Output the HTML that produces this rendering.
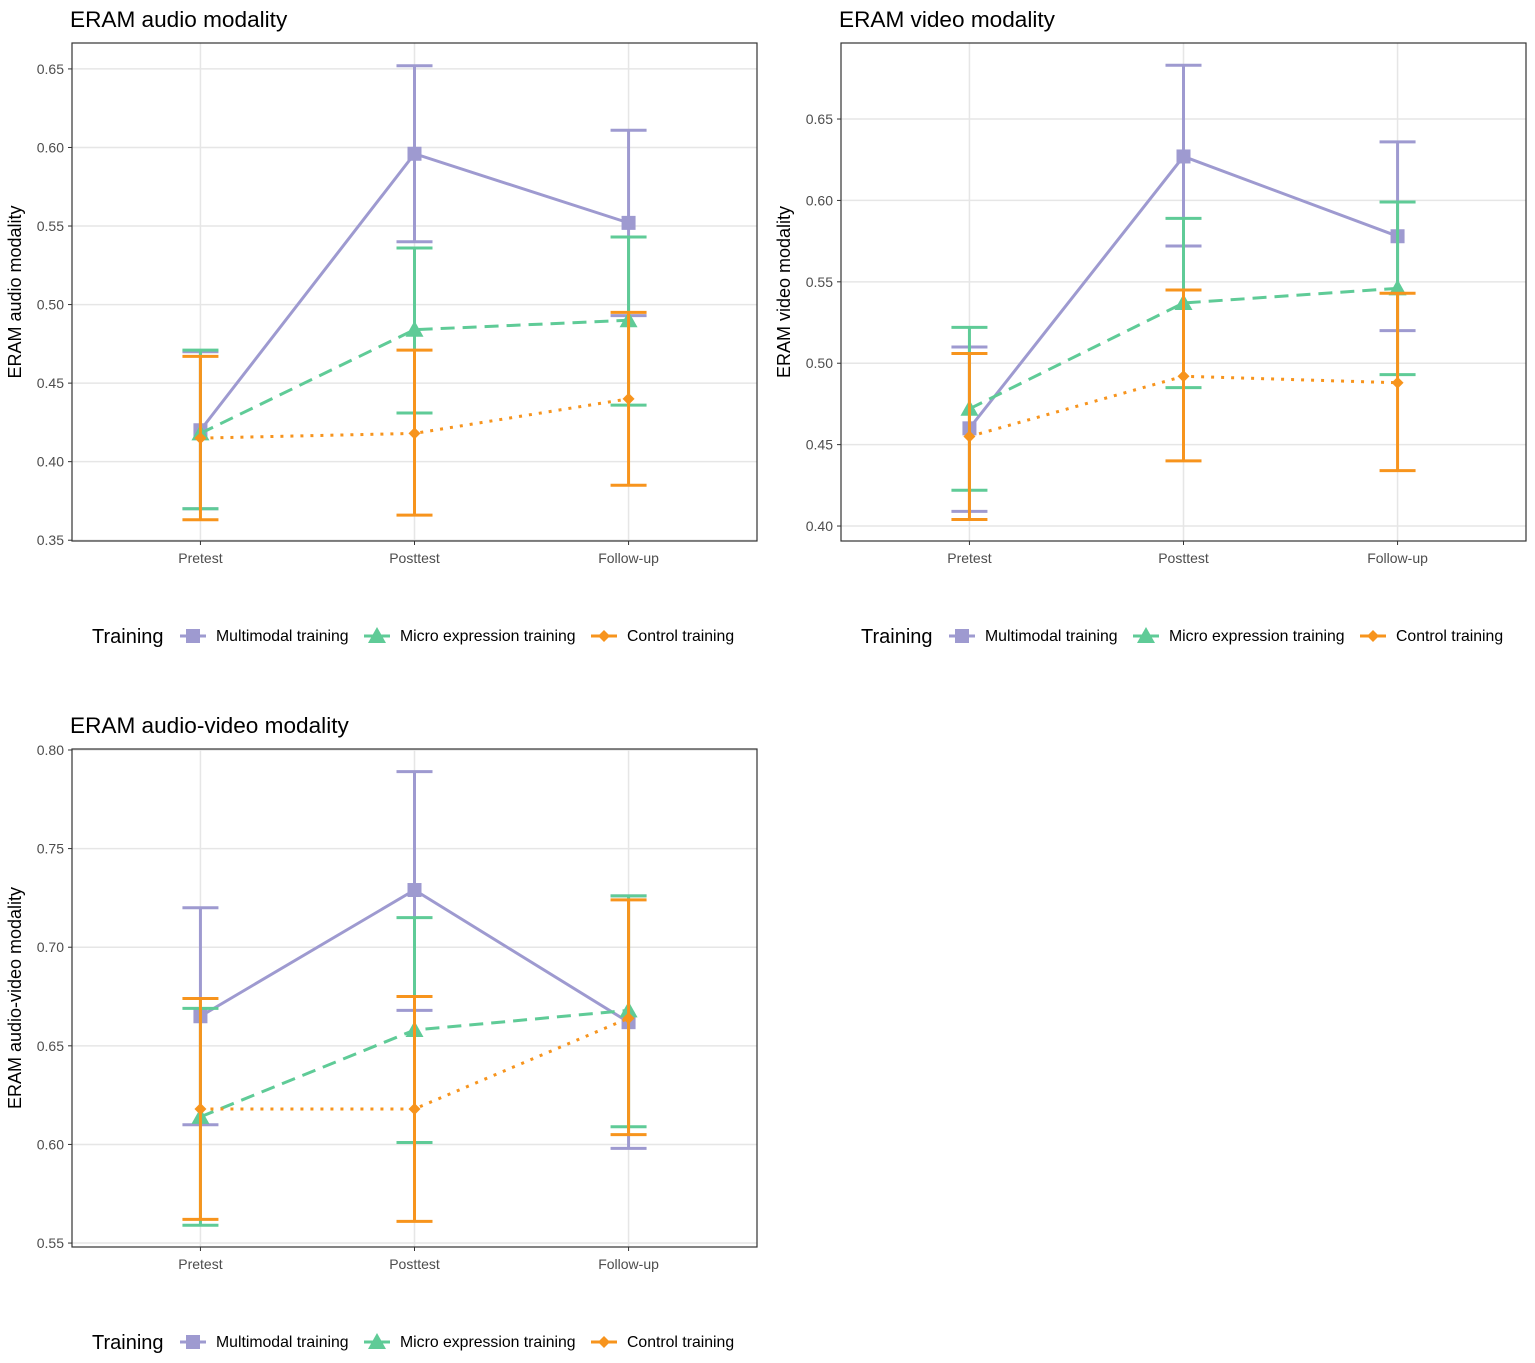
<!DOCTYPE html>
<html><head><meta charset="utf-8">
<style>
html,body{margin:0;padding:0;background:#fff;}
svg text{font-family:"Liberation Sans",Arial,sans-serif;}
</style></head>
<body>
<svg id="chart" width="1535" height="1358" viewBox="0 0 1535 1358" xmlns="http://www.w3.org/2000/svg"></svg>
<script>
const categories = ["Pretest","Posttest","Follow-up"];
const seriesNames = ["Multimodal training","Micro expression training","Control training"];
// Panel 1: audio
const audioMean = [[0.420,0.596,0.552],[0.418,0.484,0.490],[0.415,0.418,0.440]];
const audioHigh = [[0.470,0.652,0.611],[0.471,0.536,0.543],[0.467,0.471,0.495]];
const audioLow  = [[0.370,0.540,0.493],[0.370,0.431,0.436],[0.363,0.366,0.385]];
const audioTicks = [0.35,0.40,0.45,0.50,0.55,0.60,0.65];
// Panel 2: video
const videoMean = [[0.460,0.627,0.578],[0.472,0.537,0.546],[0.455,0.492,0.488]];
const videoHigh = [[0.510,0.683,0.636],[0.522,0.589,0.599],[0.506,0.545,0.543]];
const videoLow  = [[0.409,0.572,0.520],[0.422,0.485,0.493],[0.404,0.440,0.434]];
const videoTicks = [0.40,0.45,0.50,0.55,0.60,0.65];
// Panel 3: audio-video
const avMean = [[0.665,0.729,0.662],[0.614,0.658,0.668],[0.618,0.618,0.664]];
const avHigh = [[0.720,0.789,0.726],[0.669,0.715,0.726],[0.674,0.675,0.724]];
const avLow  = [[0.610,0.668,0.598],[0.559,0.601,0.609],[0.562,0.561,0.605]];
const avTicks = [0.55,0.60,0.65,0.70,0.75,0.80];

const colors = ["#9e9ad0","#5fcb97","#f7941d"];
const dashes = ["", "14 8", "3 7"];
const NS = "http://www.w3.org/2000/svg";
const svg = document.getElementById("chart");
function el(tag, attrs, parent){const e=document.createElementNS(NS,tag);for(const k in attrs)e.setAttribute(k,attrs[k]);(parent||svg).appendChild(e);return e;}

function marker(g, s, x, y){
  let m;
  if(s===0){m=el("rect",{x:x-7,y:y-7,width:14,height:14,fill:colors[0]},g);}
  else if(s===1){m=el("polygon",{points:`${x},${y-9} ${x+9},${y+7} ${x-9},${y+7}`,fill:colors[1]},g);}
  else {m=el("polygon",{points:`${x},${y-6} ${x+6},${y} ${x},${y+6} ${x-6},${y}`,fill:colors[2]},g);}
  return m;
}

function panel(cfg){
  const {px,py,pw,ph,vmin,vmax,ticks,mean,high,low,title,ylab,name} = cfg;
  const g = el("g",{});
  
  
  const yS = v => py+ph - (v-vmin)/(vmax-vmin)*ph;
  const xS = i => px + pw*(0.1875 + i*0.3125);
  ticks.forEach(t=>{
    const y=yS(t);
    const gl=el("line",{x1:px,x2:px+pw,y1:y,y2:y,stroke:"#e6e6e6","stroke-width":1.5},g);
    
    
    const tl=el("text",{x:px-8,y:y+5,"text-anchor":"end","font-size":14,fill:"#4d4d4d"},g);
    tl.textContent=t.toFixed(2);
    
    
    el("line",{x1:px-4,x2:px,y1:y,y2:y,stroke:"#333","stroke-width":1},g);
  });
  categories.forEach((c,i)=>{
    const x=xS(i);
    el("line",{x1:x,x2:x,y1:py,y2:py+ph,stroke:"#e6e6e6","stroke-width":1.5},g);
    el("line",{x1:x,x2:x,y1:py+ph,y2:py+ph+4,stroke:"#333","stroke-width":1},g);
    const tl=el("text",{x:x,y:py+ph+22,"text-anchor":"middle","font-size":14,fill:"#4d4d4d"},g);
    tl.textContent=c;
    
    
  });
  for(let s=0;s<3;s++){
    const sg=el("g",{},g);
    
    
    categories.forEach((c,i)=>{
      const x=xS(i);
      const eb=el("path",{d:`M${x-18},${yS(high[s][i])}H${x+18}M${x},${yS(high[s][i])}V${yS(low[s][i])}M${x-18},${yS(low[s][i])}H${x+18}`,stroke:colors[s],"stroke-width":3,fill:"none"},sg);
      
      
    });
    const pts=categories.map((c,i)=>xS(i)+","+yS(mean[s][i])).join(" ");
    const ln=el("polyline",{points:pts,fill:"none",stroke:colors[s],"stroke-width":3,"stroke-dasharray":dashes[s]},sg);
    
    
    categories.forEach((c,i)=>{
      const m=marker(sg,s,xS(i),yS(mean[s][i]));
      
      
    });
  }
  const fr=el("rect",{x:px,y:py,width:pw,height:ph,fill:"none",stroke:"#333","stroke-width":1.2},g);
  
  
  const tt=el("text",{x:px-2,y:py-16,"font-size":22.6,fill:"#000"},g);
  tt.textContent=title;
  
  
  const yl=el("text",{x:0,y:0,"font-size":18,fill:"#000","text-anchor":"middle",transform:`translate(${px-51},${py+ph/2}) rotate(-90)`},g);
  yl.textContent=ylab;
  
  
  const lg=el("g",{},g);
  
  
  const ly=py+ph+95;
  const lt=el("text",{x:px+20,y:ly+7,"font-size":20,fill:"#000"},lg);
  lt.textContent="Training";
  
  
  const kx=[px+108,px+292,px+519];
  for(let s=0;s<3;s++){
    const e=el("g",{},lg);
    
    
    el("line",{x1:kx[s],x2:kx[s]+26,y1:ly,y2:ly,stroke:colors[s],"stroke-width":3},e);
    marker(e,s,kx[s]+13,ly);
    const t=el("text",{x:kx[s]+36,y:ly+5,"font-size":15.8,fill:"#000"},e);
    t.textContent=seriesNames[s];
  }
}
panel({px:72,py:43,pw:685,ph:498,vmin:0.3495,vmax:0.6665,ticks:audioTicks,mean:audioMean,high:audioHigh,low:audioLow,title:"ERAM audio modality",ylab:"ERAM audio modality",name:"audio"});
panel({px:841,py:43,pw:685,ph:498,vmin:0.3908,vmax:0.6967,ticks:videoTicks,mean:videoMean,high:videoHigh,low:videoLow,title:"ERAM video modality",ylab:"ERAM video modality",name:"video"});
panel({px:72,py:749,pw:685,ph:498,vmin:0.548,vmax:0.8005,ticks:avTicks,mean:avMean,high:avHigh,low:avLow,title:"ERAM audio-video modality",ylab:"ERAM audio-video modality",name:"audio-video"});
</script>
</body></html>
